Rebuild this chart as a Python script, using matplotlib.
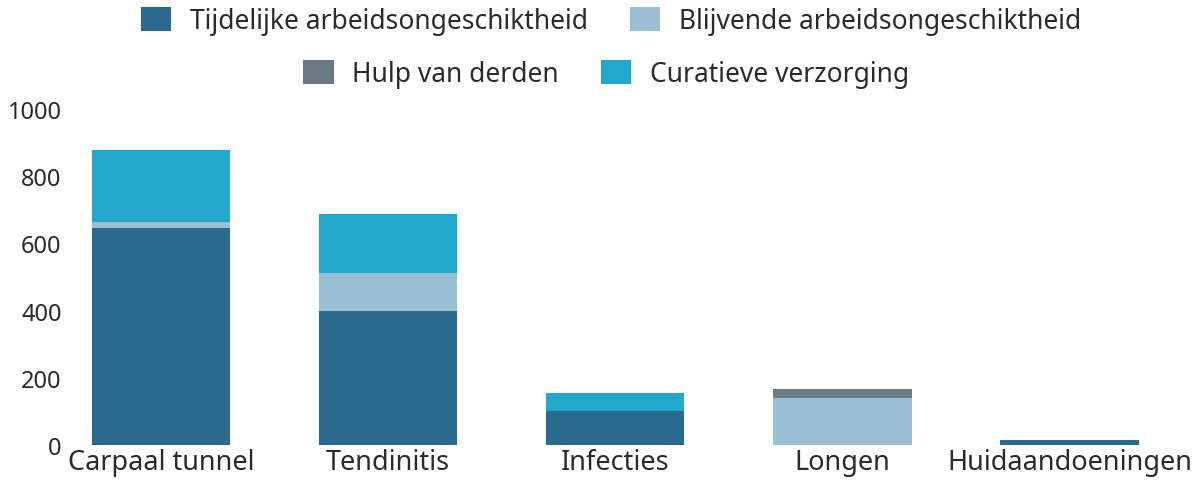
import matplotlib.pyplot as plt
from matplotlib.patches import Patch
import numpy as np

# === data ===
categories = ["Carpaal tunnel", "Tendinitis", "Infecties", "Longen", "Huidaandoeningen"]
series_names = ["Tijdelijke arbeidsongeschiktheid", "Blijvende arbeidsongeschiktheid",
                "Hulp van derden", "Curatieve verzorging"]
tijdelijk = [645, 400, 102, 0, 16]
blijvend = [20, 111, 0, 141, 0]
hulp = [0, 0, 0, 27, 0]
curatief = [214, 176, 52, 0, 0]
yticks = [0, 200, 400, 600, 800, 1000]

colors = ["#2B6A8F", "#9BC0D6", "#6C7A83", "#22A8CC"]
TEXT = "#2a2a2a"
plt.rcParams["font.family"] = ["Noto Sans", "DejaVu Sans"]

fig = plt.figure(figsize=(11.93, 4.81), dpi=100)
ax = fig.add_axes([70 / 1193, 35 / 481, (1183 - 70) / 1193, 336 / 481])

x = np.arange(len(categories))
bottom = np.zeros(len(categories))
for vals, col in zip([tijdelijk, blijvend, hulp, curatief], colors):
    ax.bar(x, vals, width=0.61, bottom=bottom, color=col, linewidth=0)
    bottom += np.array(vals)

ax.set_xlim(-0.4, 4.5)
ax.set_ylim(0, 1000)
ax.set_xticks(x)
ax.set_xticklabels(categories)
ax.set_yticks(yticks)
ax.tick_params(length=0, labelsize=17, colors=TEXT, pad=6)
ax.tick_params(axis="x", pad=2, labelsize=19.5)
for s in ax.spines.values():
    s.set_visible(False)

# legend in two rows
h = [Patch(facecolor=c, edgecolor="none") for c in colors]
kw = dict(frameon=False, fontsize=19, handlelength=1.15, handleheight=1.05,
          handletextpad=0.7, columnspacing=1.6, ncol=2, labelcolor=TEXT,
          loc="center")
fig.legend(h[:2], series_names[:2], bbox_to_anchor=(611 / 1193, 1 - 22 / 481), **kw)
fig.legend(h[2:], series_names[2:], bbox_to_anchor=(606 / 1193, 1 - 75 / 481), **kw)

fig.savefig("out.png", dpi=100)
